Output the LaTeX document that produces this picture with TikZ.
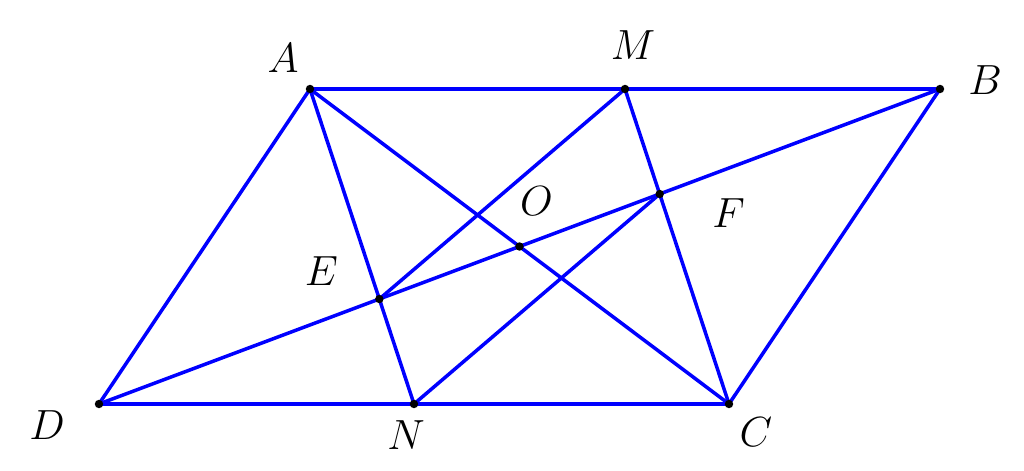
\documentclass[tikz,border=0pt]{standalone}
\usetikzlibrary{calc}
\begin{document}
\begin{tikzpicture}[every node/.style={inner sep=0pt, font=\large}]
\useasboundingbox (0,0) rectangle (10.24,-4.71);
\coordinate (A) at (3.10,-0.89);
\coordinate (B) at (9.40,-0.89);
\coordinate (D) at (0.99,-4.04);
\coordinate (C) at ($(B)+(D)-(A)$);
\coordinate (M) at ($(A)!0.5!(B)$);
\coordinate (N) at ($(D)!0.5!(C)$);
\coordinate (O) at ($(A)!0.5!(C)$);
\coordinate (E) at (intersection of A--N and D--B);
\coordinate (F) at (intersection of M--C and D--B);

\begin{scope}[blue, line width=1pt]
\draw (A) -- (B) -- (C) -- (D) -- cycle;
\draw (A) -- (C);
\draw (D) -- (B);
\draw (A) -- (N);
\draw (M) -- (C);
\draw (M) -- (E);
\draw (N) -- (F);
\end{scope}

\foreach \p in {A,B,C,D,M,N,O,E,F}
  \fill (\p) circle (1.2pt);

\node (lA) at ($(A)+(-0.27,0.31)$) {$A$};
\node (lM) at ($(M)+(0.08,0.44)$) {$M$};
\node (lB) at ($(B)+(0.45,0.09)$) {$B$};
\node (lD) at ($(D)+(-0.52,-0.21)$) {$D$};
\node (lN) at ($(N)+(-0.08,-0.31)$) {$N$};
\node (lC) at ($(C)+(0.27,-0.28)$) {$C$};
\node (lE) at ($(E)+(-0.58,0.28)$) {$E$};
\node (lO) at ($(O)+(0.17,0.45)$) {$O$};
\node (lF) at ($(F)+(0.69,-0.19)$) {$F$};

\end{tikzpicture}
\end{document}
